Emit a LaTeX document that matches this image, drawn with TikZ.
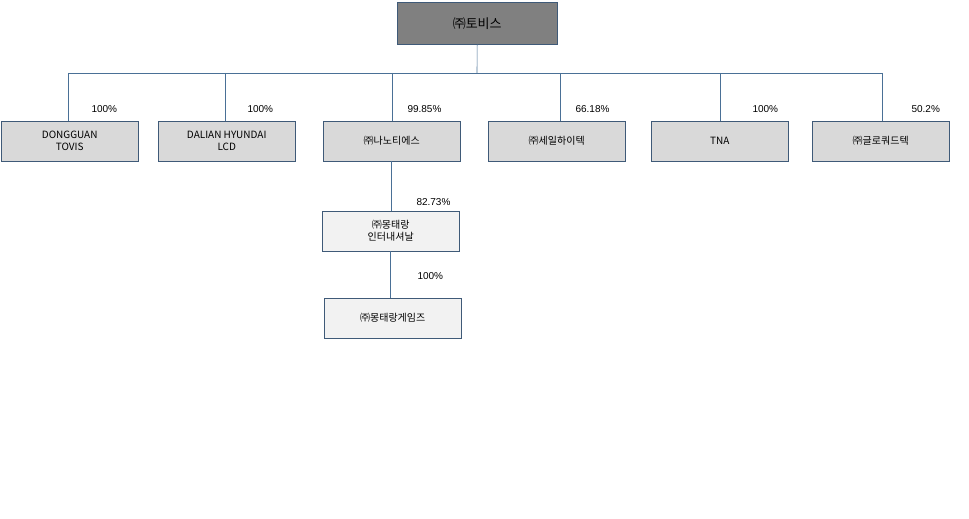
\documentclass[tikz,border=0pt]{standalone}
\usepackage{fontspec}
\setmainfont{Liberation Sans}
\newfontfamily\kofont{Noto Sans CJK KR}
\definecolor{boxline}{HTML}{3F5A78}
\definecolor{linkline}{HTML}{4A7096}
\definecolor{topfill}{HTML}{808080}
\definecolor{midfill}{HTML}{D9D9D9}
\definecolor{lowfill}{HTML}{F2F2F2}
\tikzset{
  org box/.style={
    fill=#1,
    draw=boxline,
    anchor=north west,
    minimum width=137pt,
    minimum height=40pt,
    align=center,
    inner sep=1pt,
    font=\kofont\fontsize{10}{12}\selectfont,
  },
  share/.style={
    anchor=west,
    font=\fontsize{10}{12}\selectfont,
  },
  link/.style={draw=linkline, line width=0.6pt},
}
\begin{document}
\begin{tikzpicture}[x=1pt,y=-1pt]
        \useasboundingbox (0,0) rectangle (969,519);
        \node [org box=topfill, minimum width=160pt, minimum height=42pt,
               font=\kofont\fontsize{13}{15}\selectfont] (tovis) at (397,2) {㈜토비스};
        \node [org box=midfill] (dg) at (1,121) {DONGGUAN\\TOVIS};
        \node [org box=midfill] (dl) at (158,121) {DALIAN HYUNDAI\\LCD};
        \node [org box=midfill] (nano) at (323,121) {㈜나노티에스};
        \node [org box=midfill] (seil) at (488,121) {㈜세일하이텍};
        \node [org box=midfill] (tna) at (651,121) {TNA};
        \node [org box=midfill] (glo) at (812,121) {㈜글로쿼드텍};
        \node [org box=lowfill] (mti) at (322,211) {㈜몽태랑\\인터내셔날};
        \node [org box=lowfill] (mtg) at (324,298) {㈜몽태랑게임즈};

        \coordinate (bus) at (477,73);
        \draw [link] (tovis.south) -- (bus);
        \draw [link] (68,73) -- (882,73);
        \foreach \n/\x in {dg/68, dl/225, nano/392, seil/560, tna/720, glo/882}
          \draw [link] (\x,73) -- (\x,121);
        \draw [link] (nano.south -| 391,0) -- (mti.north -| 391,0);
        \draw [link] (mti.south -| 390,0) -- (mtg.north -| 390,0);

        \node [share] at (88,109) {100\%};
        \node [share] at (244,109) {100\%};
        \node [share] at (404,109) {99.85\%};
        \node [share] at (572,109) {66.18\%};
        \node [share] at (749,109) {100\%};
        \node [share] at (908,109) {50.2\%};
        \node [share] at (413,202) {82.73\%};
        \node [share] at (414,276) {100\%};
    \end{tikzpicture}
\end{document}
